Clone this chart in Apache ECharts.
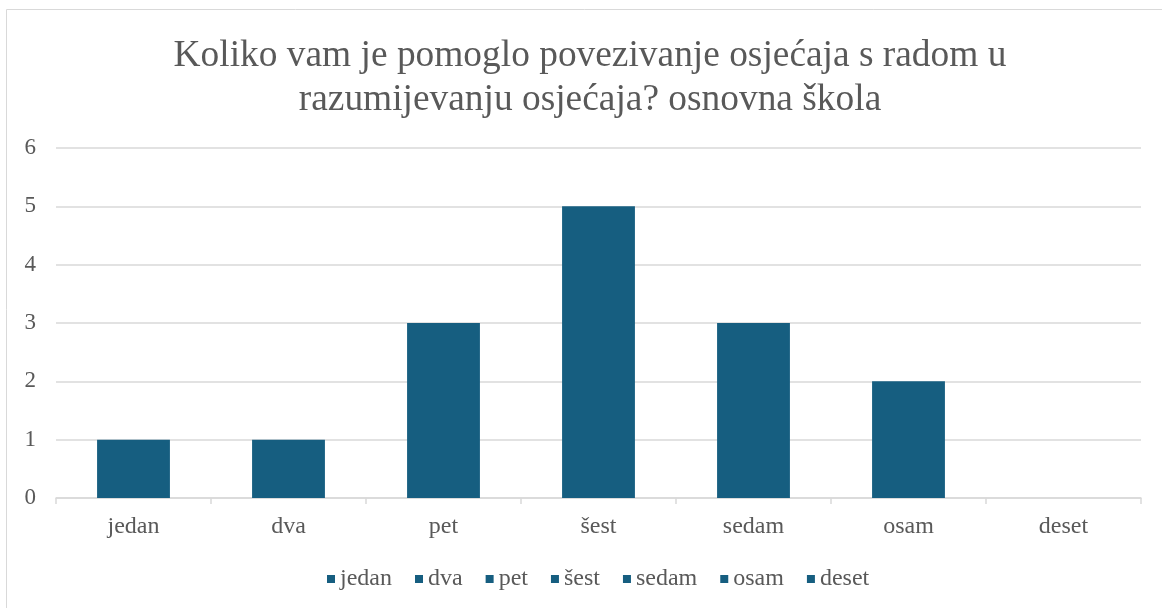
<!DOCTYPE html>
<html>
<head>
<meta charset="utf-8">
<script src="https://cdn.jsdelivr.net/npm/echarts@6/dist/echarts.min.js"></script>
<style>
  html, body { margin: 0; padding: 0; background: #fff; }
  #main { width: 1162px; height: 608px; }
</style>
</head>
<body>
<div id="main"></div>
<script>
// podaci
var categories = ['jedan', 'dva', 'pet', 'šest', 'sedam', 'osam', 'deset'];
var values = [1, 1, 3, 5, 3, 2, 0];
var yTicks = [0, 1, 2, 3, 4, 5, 6];

var titleText = 'Koliko vam je pomoglo povezivanje osjećaja s radom u\nrazumijevanju osjećaja? osnovna škola';
var barColor = '#165e80';
var textColor = '#595959';
var serif = '"Liberation Serif", "Times New Roman", serif';

var chart = echarts.init(document.getElementById('main'));

// svaka kategorija je zasebna serija (zbog legende)
var series = categories.map(function(name, i) {
    var data = categories.map(function(c, j) { return j === i ? values[i] : null; });
    return {
        name: name,
        type: 'bar',
        stack: 'sve',
        barWidth: '47%',
        data: data,
        itemStyle: { color: barColor }
    };
});

chart.setOption({
    animation: false,
    textStyle: { fontFamily: serif },
    graphic: [{
        type: 'rect',
        shape: { x: 6.5, y: 9.5, width: 1300, height: 800 },
        style: { fill: null, stroke: '#d9d9d9', lineWidth: 1 },
        silent: true
    }],
    title: {
        text: titleText,
        left: 585,
        textAlign: 'center',
        top: 29,
        textStyle: {
            fontFamily: serif,
            fontSize: 37.4,
            fontWeight: 'normal',
            color: textColor,
            lineHeight: 44
        }
    },
    legend: {
        data: categories,
        bottom: 12,
        left: 322,
        itemWidth: 8,
        itemHeight: 8,
        itemGap: 23,
        icon: 'rect',
        textStyle: { fontFamily: serif, fontSize: 24, color: textColor }
    },
    grid: { left: 56, right: 21, top: 148, bottom: 110 },
    xAxis: {
        type: 'category',
        data: categories,
        axisLine: { lineStyle: { color: '#d9d9d9', width: 1.5 } },
        axisTick: { show: true, length: 6, lineStyle: { color: '#d9d9d9', width: 1.5 } },
        axisLabel: { fontFamily: serif, fontSize: 24, color: textColor, margin: 17 }
    },
    yAxis: {
        type: 'value',
        min: yTicks[0],
        max: yTicks[yTicks.length - 1],
        interval: 1,
        axisLine: { show: false },
        axisTick: { show: false },
        splitLine: { lineStyle: { color: '#d9d9d9', width: 1.5 } },
        axisLabel: { fontFamily: serif, fontSize: 23, color: textColor, margin: 20 }
    },
    series: series
});
</script>
</body>
</html>
